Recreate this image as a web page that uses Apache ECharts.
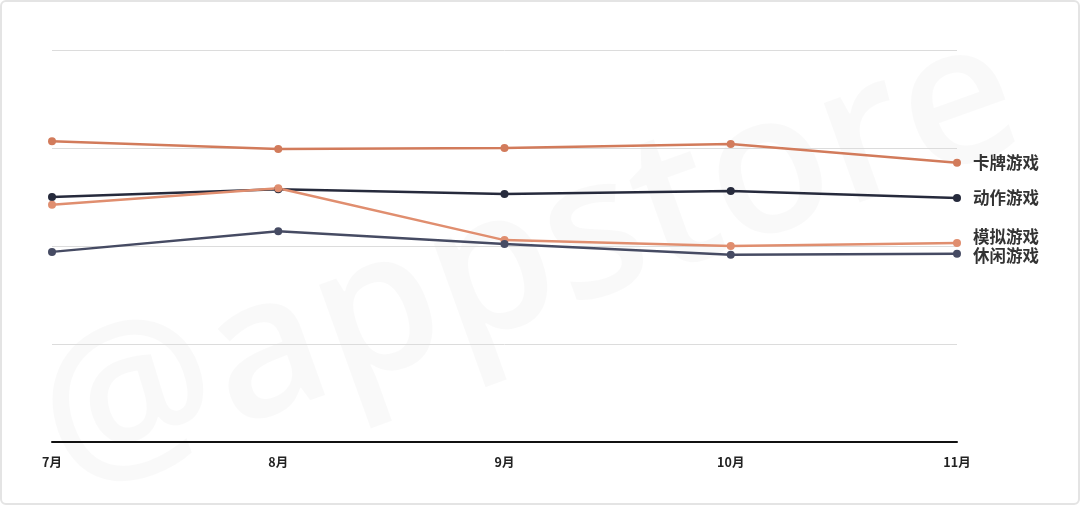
<!DOCTYPE html>
<html><head><meta charset="utf-8">
<script src="https://cdn.jsdelivr.net/npm/echarts@6/dist/echarts.min.js"></script>
<style>
html,body{margin:0;padding:0;background:#fff;}
#wrap{position:absolute;left:0;top:0;width:1080px;height:505px;box-sizing:border-box;border:2px solid #e4e4e4;border-radius:6px;overflow:hidden;}
#c{position:absolute;left:-2px;top:-2px;width:1080px;height:505px;}
</style></head>
<body><div id="wrap"><div id="c"></div></div>
<script>
const categories = ['7月','8月','9月','10月','11月'];
const seriesNames = ['卡牌游戏','动作游戏','模拟游戏','休闲游戏'];
const cardGame = [3.07, 2.99, 3.00, 3.04, 2.85];
const actionGame = [2.50, 2.58, 2.53, 2.56, 2.49];
const simGame = [2.42, 2.59, 2.06, 2.00, 2.03];
const casualGame = [1.94, 2.15, 2.02, 1.91, 1.92];
const yTicks = [0, 1, 2, 3, 4];

const colors = ['#d27b5b', '#262a3c', '#e08e6f', '#464b63'];
const offsets = [[8, 0], [8, 0], [8, -6], [8, 2]];
const dataList = [cardGame, actionGame, simGame, casualGame];

const chart = echarts.init(document.getElementById('c'));
chart.setOption({
  animation: false,
  backgroundColor: 'transparent',
  graphic: [{
    type: 'text', x: 530, y: 262, rotation: Math.PI * 0.11,
    style: { text: '@appstore', font: '600 196px "Open Sans", sans-serif', fill: 'rgba(0,0,0,0.025)', align: 'center', verticalAlign: 'middle' },
    z: -10
  }],
  grid: { left: 52, right: 123, top: 50, bottom: 63, containLabel: false },
  xAxis: {
    type: 'category', data: categories, boundaryGap: false,
    axisLine: { lineStyle: { color: '#111', width: 2 } },
    axisTick: { show: false },
    axisLabel: { color: '#222', fontSize: 12.5, fontWeight: 'bold', margin: 14, fontFamily: '"Noto Sans CJK SC", sans-serif' }
  },
  yAxis: {
    type: 'value', min: yTicks[0], max: yTicks[yTicks.length - 1], interval: 1,
    axisLabel: { show: false }, axisLine: { show: false }, axisTick: { show: false },
    splitLine: { lineStyle: { color: '#dcdcdc', width: 1 } }
  },
  series: seriesNames.map((n, i) => ({
    name: n, type: 'line', data: dataList[i],
    symbol: 'circle', symbolSize: 8,
    lineStyle: { color: colors[i], width: 2.5 },
    itemStyle: { color: colors[i] },
    endLabel: {
      show: true, formatter: '{a}', offset: offsets[i],
      color: '#333', fontSize: 16.5, fontWeight: 'bold',
      fontFamily: '"Noto Sans CJK SC", sans-serif'
    }
  }))
});
</script></body></html>
